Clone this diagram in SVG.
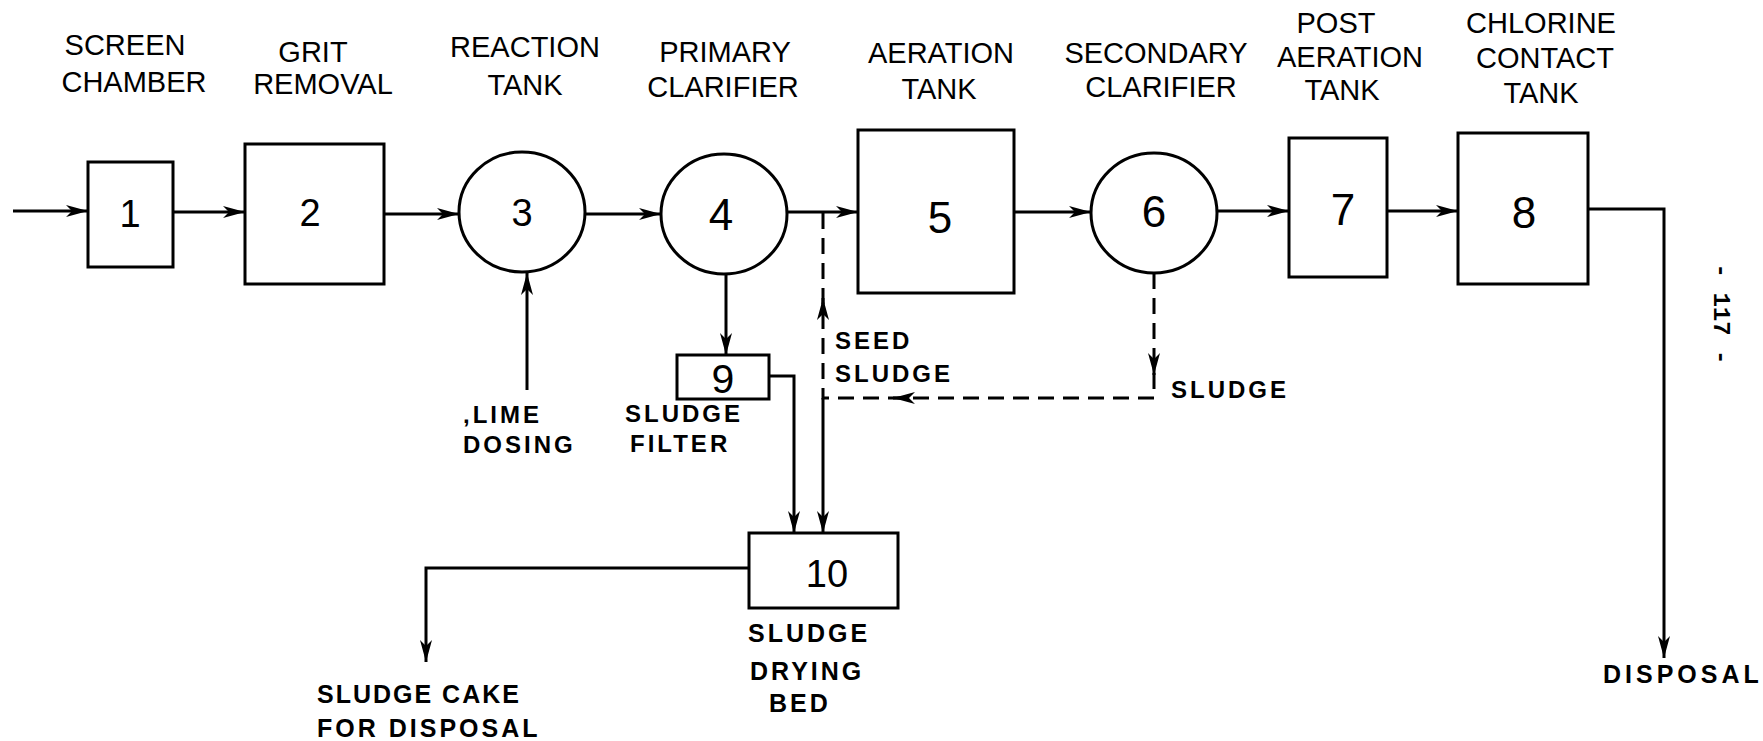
<svg xmlns="http://www.w3.org/2000/svg" width="1763" height="741" viewBox="0 0 1763 741">
<style>
.shape{fill:none;stroke:#000;stroke-width:3}
.ln{fill:none;stroke:#000;stroke-width:3}
.dash{stroke-dasharray:16 9}
.hdr{font-family:"Liberation Sans",Arial,sans-serif;font-size:29px;text-anchor:middle;fill:#000}
.num{font-family:"Liberation Sans",Arial,sans-serif;font-size:44px;text-anchor:middle;fill:#000}
.lbl{font-family:"Liberation Sans",Arial,sans-serif;font-size:24px;font-weight:bold;letter-spacing:3px;fill:#000}
.pg{font-family:"Liberation Mono","Courier New",monospace;font-size:24px;font-weight:bold;text-anchor:middle;fill:#000}
</style>
<defs>
<marker id="ah" markerUnits="userSpaceOnUse" markerWidth="24" markerHeight="14" refX="22" refY="7" orient="auto">
<path d="M0,1 L22,7 L0,13 L6,7 Z" fill="#000"/>
</marker>
</defs>
<rect width="1763" height="741" fill="#fff"/>

<g id="headers">
<text class="hdr" x="125" y="55">SCREEN</text>
<text class="hdr" x="134" y="92">CHAMBER</text>
<text class="hdr" x="313" y="62">GRIT</text>
<text class="hdr" x="323" y="94">REMOVAL</text>
<text class="hdr" x="525" y="57">REACTION</text>
<text class="hdr" x="525" y="95">TANK</text>
<text class="hdr" x="725" y="62">PRIMARY</text>
<text class="hdr" x="723" y="97">CLARIFIER</text>
<text class="hdr" x="941" y="63">AERATION</text>
<text class="hdr" x="939" y="99">TANK</text>
<text class="hdr" x="1156" y="63">SECONDARY</text>
<text class="hdr" x="1161" y="97">CLARIFIER</text>
<text class="hdr" x="1336" y="33">POST</text>
<text class="hdr" x="1350" y="67">AERATION</text>
<text class="hdr" x="1342" y="100">TANK</text>
<text class="hdr" x="1541" y="33">CHLORINE</text>
<text class="hdr" x="1545" y="68">CONTACT</text>
<text class="hdr" x="1541" y="103">TANK</text>
</g>

<g id="node1"><rect class="shape" x="88" y="162" width="85" height="105"/><text class="num" x="130" y="227" style="font-size:38px">1</text></g>
<g id="node2"><rect class="shape" x="245" y="144" width="139" height="140"/><text class="num" x="310" y="226" style="font-size:38px">2</text></g>
<g id="node3"><ellipse class="shape" cx="522" cy="212" rx="63" ry="60"/><text class="num" x="522" y="226" style="font-size:38px">3</text></g>
<g id="node4"><ellipse class="shape" cx="724" cy="214" rx="63" ry="60"/><text class="num" x="721" y="230">4</text></g>
<g id="node5"><rect class="shape" x="858" y="130" width="156" height="163"/><text class="num" x="940" y="233">5</text></g>
<g id="node6"><ellipse class="shape" cx="1154" cy="213" rx="63" ry="60"/><text class="num" x="1154" y="227">6</text></g>
<g id="node7"><rect class="shape" x="1289" y="138" width="98" height="139"/><text class="num" x="1343" y="225">7</text></g>
<g id="node8"><rect class="shape" x="1458" y="133" width="130" height="151"/><text class="num" x="1524" y="228">8</text></g>
<g id="node9"><rect class="shape" x="677" y="355" width="92" height="44"/><text class="num" x="723" y="393" style="font-size:41px">9</text></g>
<g id="node10"><rect class="shape" x="749" y="533" width="149" height="75"/><text class="num" x="827" y="587" style="font-size:38px">10</text></g>

<g id="connectors">
<path class="ln" d="M13,211 H88" marker-end="url(#ah)"/>
<path class="ln" d="M173,212 H245" marker-end="url(#ah)"/>
<path class="ln" d="M384,214 H459" marker-end="url(#ah)"/>
<path class="ln" d="M585,214 H661" marker-end="url(#ah)"/>
<path class="ln" d="M787,212 H858" marker-end="url(#ah)"/>
<path class="ln" d="M1014,212 H1091" marker-end="url(#ah)"/>
<path class="ln" d="M1217,211 H1289" marker-end="url(#ah)"/>
<path class="ln" d="M1387,211 H1458" marker-end="url(#ah)"/>
<path class="ln" d="M1588,209 H1664 V658" marker-end="url(#ah)"/>
<path class="ln" d="M527,390 V273" marker-end="url(#ah)"/>
<path class="ln" d="M726,274 V355" marker-end="url(#ah)"/>
<path class="ln" d="M769,376 H794 V533" marker-end="url(#ah)"/>
<path class="ln" d="M823,398 V533" marker-end="url(#ah)"/>
<path class="ln" d="M749,568 H426 V662" marker-end="url(#ah)"/>
<path class="ln dash" d="M1154,273 V398 H823 V212"/>
<path class="ln" d="M1154,362 V375" marker-end="url(#ah)"/>
<path class="ln" d="M906,398 H893" marker-end="url(#ah)"/>
<path class="ln" d="M823,311 V298" marker-end="url(#ah)"/>
</g>

<g id="labels">
<text class="lbl" x="463" y="423">,LIME</text>
<text class="lbl" x="463" y="453">DOSING</text>
<text class="lbl" x="625" y="422">SLUDGE</text>
<text class="lbl" x="630" y="452">FILTER</text>
<text class="lbl" x="835" y="349">SEED</text>
<text class="lbl" x="835" y="382">SLUDGE</text>
<text class="lbl" x="1171" y="398">SLUDGE</text>
<text class="lbl" x="748" y="642" style="font-size:25px">SLUDGE</text>
<text class="lbl" x="750" y="680" style="font-size:25px">DRYING</text>
<text class="lbl" x="769" y="712" style="font-size:25px">BED</text>
<text class="lbl" x="317" y="703" style="font-size:25px;letter-spacing:2px">SLUDGE CAKE</text>
<text class="lbl" x="317" y="737" style="font-size:25px">FOR DISPOSAL</text>
<text class="lbl" x="1603" y="683" style="font-size:25px;letter-spacing:4px">DISPOSAL</text>
<text class="pg" transform="translate(1722,314) rotate(90)" x="0" y="8">- 117 -</text>
</g>
</svg>
